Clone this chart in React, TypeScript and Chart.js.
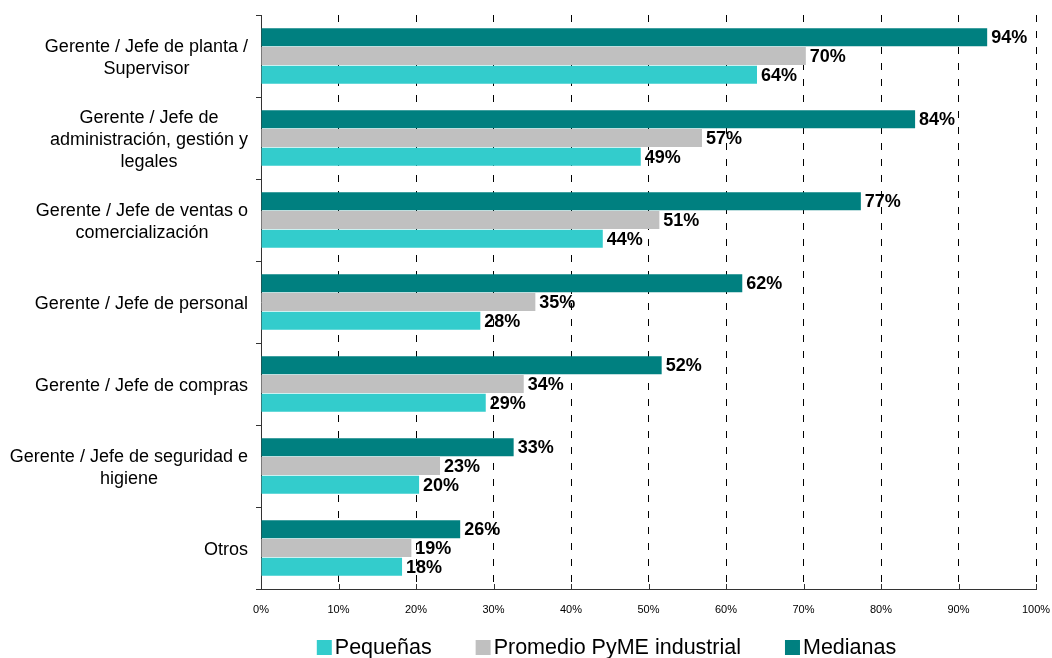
import React, { useEffect, useRef } from 'react';
import { Chart, registerables } from 'chart.js';

Chart.register(...registerables);

const FONT = '"Liberation Sans", Arial, Helvetica, sans-serif';

const categories: (string | string[])[] = [
  ['Gerente / Jefe de planta /', 'Supervisor'],
  ['Gerente / Jefe de', 'administración, gestión y', 'legales'],
  ['Gerente / Jefe de ventas o', 'comercialización'],
  'Gerente / Jefe de personal',
  'Gerente / Jefe de compras',
  ['Gerente / Jefe de seguridad e', 'higiene'],
  'Otros',
];

const medianas = [93.7, 84.4, 77.4, 62.1, 51.7, 32.6, 25.7];
const promedio = [70.3, 56.9, 51.4, 35.4, 33.9, 23.1, 19.4];
const pequenas = [64.0, 49.0, 44.1, 28.3, 29.0, 20.4, 18.2];

const seriesNames = ['Medianas', 'Promedio PyME industrial', 'Pequeñas'];
const seriesColors = ['#008080', '#C0C0C0', '#33CCCC'];

const xMin = 0;
const xMax = 100;
const xStep = 10;

const valueLabels = {
  id: 'valueLabels',
  afterDatasetsDraw(chart: any) {
    const ctx = chart.ctx;
    ctx.save();
    ctx.font = `bold 18px ${FONT}`;
    ctx.fillStyle = '#000';
    ctx.textAlign = 'left';
    ctx.textBaseline = 'middle';
    chart.data.datasets.forEach((ds: any, di: number) => {
      const meta = chart.getDatasetMeta(di);
      meta.data.forEach((el: any, i: number) => {
        const v = ds.data[i];
        ctx.fillText(Math.round(v) + '%', el.x + 4, el.y + 1);
      });
    });
    ctx.restore();
  },
};

const categoryLabels = {
  id: 'categoryLabels',
  afterDraw(chart: any) {
    const ctx = chart.ctx;
    const ys = chart.scales.y;
    ctx.save();
    ctx.font = `18px ${FONT}`;
    ctx.fillStyle = '#000';
    ctx.textAlign = 'center';
    ctx.textBaseline = 'middle';
    const rightEdge = ys.right - 5 - 8;
    const lh = 22;
    (chart.data.labels as any[]).forEach((lab: any, i: number) => {
      const lines: string[] = Array.isArray(lab) ? lab : [lab];
      const w = Math.max(...lines.map((l) => ctx.measureText(l).width));
      const cx = rightEdge - w / 2;
      const cy = ys.getPixelForValue(i) + 2;
      lines.forEach((l, k) => {
        ctx.fillText(l, cx, cy + (k - (lines.length - 1) / 2) * lh);
      });
    });
    ctx.restore();
  },
};

const innerTicksAndLegend = {
  id: 'innerTicksAndLegend',
  afterDraw(chart: any) {
    const ctx = chart.ctx;
    const xs = chart.scales.x;
    const area = chart.chartArea;
    ctx.save();
    ctx.strokeStyle = '#333';
    ctx.lineWidth = 1;
    ctx.beginPath();
    xs.ticks.forEach((t: any) => {
      const px = Math.round(xs.getPixelForValue(t.value)) + 0.5;
      ctx.moveTo(px, area.bottom - 5);
      ctx.lineTo(px, area.bottom);
    });
    ctx.stroke();

    ctx.font = `21.5px ${FONT}`;
    ctx.textBaseline = 'middle';
    ctx.textAlign = 'left';
    const items = chart.data.datasets
      .map((d: any) => ({ label: d.label, color: d.backgroundColor }))
      .reverse();
    const box = 15;
    const gapBT = 3;
    const gapItems = 44;
    const widths = items.map((it: any) => box + gapBT + ctx.measureText(it.label).width);
    const total = widths.reduce((a: number, b: number) => a + b, 0) + gapItems * (items.length - 1);
    let x = 606.5 - total / 2;
    const cy = 648;
    items.forEach((it: any, i: number) => {
      ctx.fillStyle = it.color;
      ctx.fillRect(x, cy - 8, box, box);
      ctx.fillStyle = '#000';
      ctx.fillText(it.label, x + box + gapBT, cy);
      x += widths[i] + gapItems;
    });
    ctx.restore();
  },
};

function zeroPadding(scale: any) {
  scale.paddingTop = 0;
  scale.paddingBottom = 0;
  scale.paddingLeft = 0;
  scale.paddingRight = 0;
}

export default function App() {
  const ref = useRef<HTMLCanvasElement | null>(null);

  useEffect(() => {
    if (!ref.current) return;
    const data = [medianas, promedio, pequenas];
    const chart = new Chart(ref.current, {
      type: 'bar',
      data: {
        labels: categories as any,
        datasets: data.map((d, i) => ({
          label: seriesNames[i],
          data: d,
          backgroundColor: seriesColors[i],
          borderWidth: 0,
          categoryPercentage: 0.685,
          barPercentage: 0.96,
        })),
      },
      options: {
        indexAxis: 'y',
        responsive: false,
        animation: false,
        devicePixelRatio: 1,
        layout: { padding: { top: 15, right: 16, bottom: 0, left: 0 } },
        plugins: {
          legend: { display: false },
          tooltip: { enabled: false },
        },
        scales: {
          x: {
            type: 'linear',
            min: xMin,
            max: xMax,
            afterFit(scale: any) {
              scale.height = 69;
              zeroPadding(scale);
            },
            ticks: {
              stepSize: xStep,
              padding: 14,
              color: '#000',
              font: { family: FONT, size: 11 },
              callback: (v: any) => v + '%',
            },
            grid: {
              color: '#000',
              lineWidth: 1,
              drawTicks: false,
            },
            border: { color: '#333', width: 1, dash: [7, 9] },
          },
          y: {
            type: 'category',
            afterFit(scale: any) {
              scale.width = 261;
              zeroPadding(scale);
            },
            ticks: {
              display: false,
              autoSkip: false,
            },
            grid: {
              offset: true,
              drawOnChartArea: false,
              drawTicks: true,
              tickLength: 5,
              color: '#333',
            },
            border: { color: '#333', width: 1 },
          },
        },
      },
      plugins: [valueLabels, categoryLabels, innerTicksAndLegend],
    } as any);
    return () => chart.destroy();
  }, []);

  return (
    <div style={{ position: 'fixed', left: 0, top: 0, width: 1052, height: 658 }}>
      <canvas ref={ref} width={1052} height={658} style={{ display: 'block' }} />
    </div>
  );
}
